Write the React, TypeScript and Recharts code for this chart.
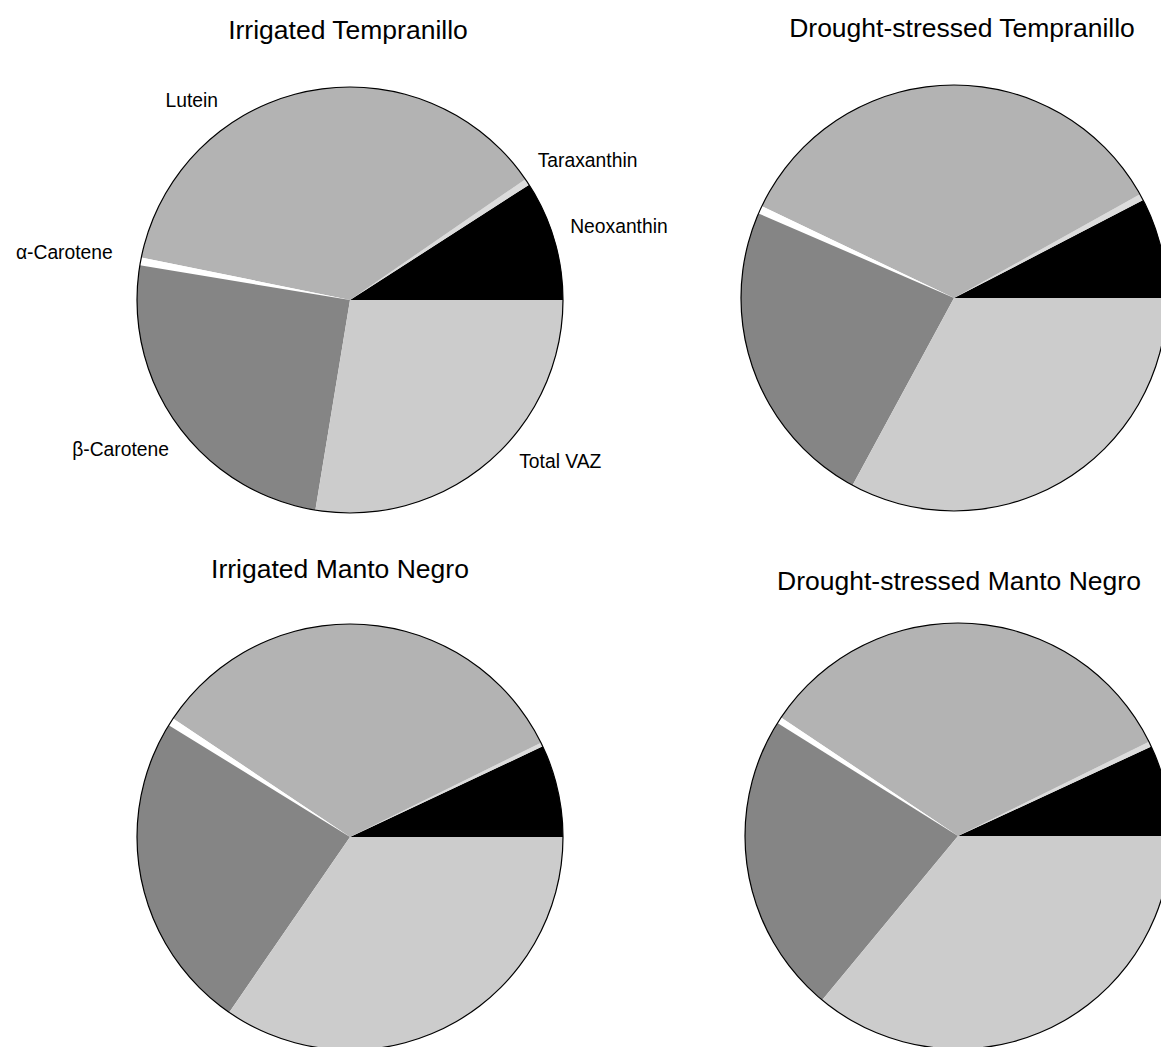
import { Cell, Pie, PieChart } from "recharts"

// pigment composition (% of total carotenoids)
const PIGMENTS = ["Neoxanthin", "Taraxanthin", "Lutein", "α-Carotene", "β-Carotene", "Total VAZ"]
const IRRIGATED_TEMPRANILLO = [9.1, 0.5, 37.2, 0.6, 25.0, 27.6]
const DROUGHT_TEMPRANILLO = [7.6, 0.5, 34.8, 0.6, 23.6, 32.9]
const IRRIGATED_MANTO_NEGRO = [7.0, 0.3, 33.3, 0.6, 24.2, 34.6]
const DROUGHT_MANTO_NEGRO = [6.9, 0.4, 33.3, 0.5, 22.9, 36.0]
const TITLES = [
  "Irrigated Tempranillo",
  "Drought-stressed Tempranillo",
  "Irrigated Manto Negro",
  "Drought-stressed Manto Negro",
]

const FILLS = ["#000000", "#dcdcdc", "#b3b3b3", "#ffffff", "#858585", "#cccccc"]
const FONT = "'Liberation Sans', Arial, Helvetica, sans-serif"
const RADIUS = 213

// where each pie sits on the page, and where its title goes
const PANELS = [
  { values: IRRIGATED_TEMPRANILLO, cx: 350, cy: 300, titleX: 348, titleY: 30, labels: true },
  { values: DROUGHT_TEMPRANILLO, cx: 954, cy: 298, titleX: 962, titleY: 28, labels: false },
  { values: IRRIGATED_MANTO_NEGRO, cx: 350, cy: 837, titleX: 340, titleY: 569, labels: false },
  { values: DROUGHT_MANTO_NEGRO, cx: 958, cy: 836, titleX: 959, titleY: 581, labels: false },
]

// angle nudge (deg) and distance from the rim (px) so labels sit like the original
const LABEL_PLACE: Record<string, [number, number]> = {
  Neoxanthin: [2, 19],
  Taraxanthin: [3, 21],
  Lutein: [22, 26],
  "α-Carotene": [-1, 29],
  "β-Carotene": [4, 22],
  "Total VAZ": [6, 21],
}

const renderLabel = (props: any) => {
  const { cx, cy, midAngle, outerRadius, name } = props
  const [nudge, pad] = LABEL_PLACE[name] ?? [0, 21]
  const angle = ((midAngle + nudge) * Math.PI) / 180
  const r = outerRadius + pad
  const x = cx + r * Math.cos(angle)
  const y = cy - r * Math.sin(angle)
  return (
    <text
      x={x}
      y={y}
      textAnchor={Math.cos(angle) >= 0 ? "start" : "end"}
      dominantBaseline="central"
      fontSize={19.3}
      fontFamily={FONT}
      fill="#000"
    >
      {name}
    </text>
  )
}

export default function App() {
  return (
    <div
      style={{
        position: "absolute",
        top: 0,
        left: 0,
        width: 1161,
        height: 1047,
        overflow: "hidden",
        background: "#fff",
        fontFamily: FONT,
      }}
    >
      <PieChart width={1161} height={1047} margin={{ top: 0, right: 0, bottom: 0, left: 0 }}>
        {PANELS.map((panel, i) => {
          const data = PIGMENTS.map((name, j) => ({ name, value: panel.values[j] }))
          return (
            <Pie
              key={`pie-${i}`}
              data={data}
              dataKey="value"
              nameKey="name"
              cx={panel.cx}
              cy={panel.cy}
              outerRadius={RADIUS}
              startAngle={0}
              endAngle={360}
              stroke="none"
              label={panel.labels ? renderLabel : false}
              labelLine={false}
              isAnimationActive={false}
            >
              {data.map((d, j) => (
                <Cell key={d.name} fill={FILLS[j]} />
              ))}
            </Pie>
          )
        })}
        {PANELS.map((panel, i) => (
          <Pie
            key={`ring-${i}`}
            data={[{ name: "outline", value: 1 }]}
            dataKey="value"
            cx={panel.cx}
            cy={panel.cy}
            innerRadius={RADIUS - 0.6}
            outerRadius={RADIUS + 0.6}
            fill="#000"
            stroke="none"
            isAnimationActive={false}
          />
        ))}
      </PieChart>
      {PANELS.map((panel, i) => (
        <div
          key={TITLES[i]}
          style={{
            position: "absolute",
            left: panel.titleX - 300,
            top: panel.titleY - 15,
            width: 600,
            lineHeight: "30px",
            textAlign: "center",
            fontSize: 26.5,
            color: "#000",
          }}
        >
          {TITLES[i]}
        </div>
      ))}
    </div>
  )
}
